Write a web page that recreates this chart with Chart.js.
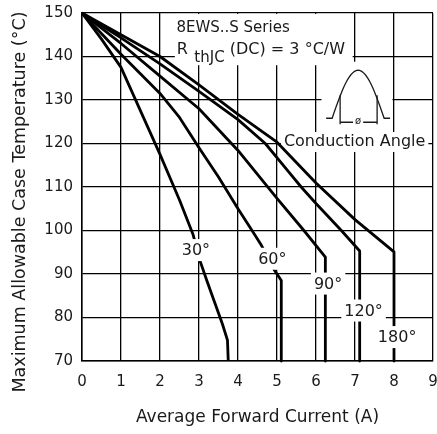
<!DOCTYPE html>
<html>
<head>
<meta charset="utf-8">
<script src="https://cdn.jsdelivr.net/npm/chart.js@4.4.1/dist/chart.umd.min.js"></script>
<style>
    html, body { margin: 0; padding: 0; background: #fff; }
    #wrap { width: 437px; height: 434px; position: relative; }
</style>
</head>
<body>
<div id="wrap"><canvas id="deratingChart"></canvas></div>
<script>
// Curves: average forward current (A) -> max case temp (°C)
const amps30  = [0, 0.5, 1, 1.5, 2, 2.5, 2.85, 3.02, 3.2, 3.4, 3.6, 3.73, 3.75];
const temp30  = [150, 144, 137.5, 127.5, 117.5, 107, 99, 93.2, 88.5, 83.5, 78.5, 74.8, 70];

const amps60  = [0, 1, 2, 2.5, 3, 3.5, 4, 4.36, 4.6, 4.94, 5.11, 5.11];
const temp60  = [150, 140.5, 131.5, 126, 119, 112.3, 105, 100, 96.6, 90.8, 88.5, 70];

const amps90  = [0, 1, 2, 3, 4, 5, 5.69, 6.24, 6.24];
const temp90  = [150, 143, 135.5, 128, 118.4, 107.4, 100, 93.9, 70];

const amps120 = [0, 1, 2, 3, 4, 4.7, 5.3, 5.62, 6, 6.65, 7.12, 7.12];
const temp120 = [150, 144.3, 138.3, 132, 125.5, 120, 113.5, 110, 106.2, 100, 95.3, 70];

const amps180 = [0, 1, 2, 3, 4, 5, 6, 7, 8, 8];
const temp180 = [150, 145, 140, 133.5, 126.7, 120.3, 110.9, 102.5, 95.1, 70];

// Conduction angle labels and where they sit (A, °C)
const angleNames      = ['30°', '60°', '90°', '120°', '180°'];
const angleLabelAmps  = [2.92, 4.88, 6.31, 7.22, 8.08];
const angleLabelTemps = [95.5, 93.5, 87.8, 81.6, 75.5];

const FONT = '"DejaVu Sans", sans-serif';
const INK = '#1a1a1a';

//////////////////////////////////////////////
// Helpers
//////////////////////////////////////////////
function toPoints(xs, ys) {
    return xs.map((x, i) => ({ x: x, y: ys[i] }));
}

function makeCurve(name, xs, ys) {
    return {
        label: name,
        data: toPoints(xs, ys),
        showLine: true,
        borderColor: '#000',
        borderWidth: 2.8,
        pointRadius: 0,
        tension: 0,
        borderJoinStyle: 'round',
        clip: false
    };
}

function whiteRect(ctx, x0, y0, x1, y1) {
    ctx.fillStyle = '#fff';
    ctx.fillRect(x0, y0, x1 - x0, y1 - y0);
}

function drawWaveIcon(ctx, cx, base) {
    ctx.strokeStyle = INK;
    ctx.lineWidth = 1.3;
    ctx.beginPath();
    ctx.moveTo(cx - 32, base);
    ctx.lineTo(cx - 26, base);
    for (let k = 0; k <= 40; k++) {
        const t = k / 40;
        ctx.lineTo(cx - 26 + 52 * t, base - 48 * Math.sin(Math.PI * t));
    }
    ctx.lineTo(cx + 32, base);
    ctx.stroke();

    // conduction window
    ctx.beginPath();
    ctx.moveTo(cx - 18, base - 23);
    ctx.lineTo(cx - 18, base + 6);
    ctx.moveTo(cx + 19, base - 23);
    ctx.lineTo(cx + 19, base + 6);
    ctx.moveTo(cx - 18, base + 4);
    ctx.lineTo(cx + 19, base + 4);
    ctx.stroke();

    ctx.font = '10px ' + FONT;
    const w = ctx.measureText('ø').width;
    whiteRect(ctx, cx - w / 2 - 2, base - 3, cx + w / 2 + 2, base + 9);
    ctx.fillStyle = INK;
    ctx.textAlign = 'center';
    ctx.textBaseline = 'middle';
    ctx.fillText('ø', cx, base + 3);
}

//////////////////////////////////////////////
// Notes drawn on top of the grid
//////////////////////////////////////////////
const notesPlugin = {
    id: 'notes',
    beforeDatasetsDraw(chart) {
        const ctx = chart.ctx;
        const x = chart.scales.x;
        const y = chart.scales.y;
        ctx.save();

        // series / Rth box
        whiteRect(ctx, x.getPixelForValue(2.38), y.getPixelForValue(149.8),
                  x.getPixelForValue(6.94), y.getPixelForValue(138));
        ctx.fillStyle = INK;
        ctx.textAlign = 'left';
        ctx.textBaseline = 'middle';
        ctx.font = '15px ' + FONT;
        ctx.fillText('8EWS..S Series', x.getPixelForValue(2.42), y.getPixelForValue(146.6));
        ctx.font = '16px ' + FONT;
        ctx.fillText('R', x.getPixelForValue(2.43), y.getPixelForValue(141.5));
        ctx.font = '15px ' + FONT;
        ctx.fillText('thJC', x.getPixelForValue(2.88), y.getPixelForValue(139.6));
        ctx.font = '16px ' + FONT;
        ctx.fillText('(DC) = 3 °C/W', x.getPixelForValue(3.79), y.getPixelForValue(141.5));

        // waveform icon
        whiteRect(ctx, x.getPixelForValue(6.14), y.getPixelForValue(138.8),
                  x.getPixelForValue(7.96), y.getPixelForValue(122));
        drawWaveIcon(ctx, x.getPixelForValue(7.08), y.getPixelForValue(125.8));

        // conduction angle caption
        ctx.font = '16px ' + FONT;
        const cap = 'Conduction Angle';
        const cw = ctx.measureText(cap).width;
        const cx = x.getPixelForValue(6.99);
        const cy = y.getPixelForValue(120.35);
        whiteRect(ctx, cx - cw / 2 - 3, cy - 10, cx + cw / 2 + 3, cy + 10);
        ctx.fillStyle = INK;
        ctx.textAlign = 'center';
        ctx.fillText(cap, cx, cy);

        ctx.restore();
    },
    afterDatasetsDraw(chart) {
        const ctx = chart.ctx;
        const x = chart.scales.x;
        const y = chart.scales.y;
        ctx.save();
        ctx.font = '16px ' + FONT;
        ctx.textAlign = 'center';
        ctx.textBaseline = 'middle';
        angleNames.forEach((name, i) => {
            const px = x.getPixelForValue(angleLabelAmps[i]);
            const py = y.getPixelForValue(angleLabelTemps[i]);
            const w = ctx.measureText(name).width;
            whiteRect(ctx, px - w / 2 - 3, py - 11, px + w / 2 + 3, py + 11);
            ctx.fillStyle = INK;
            ctx.fillText(name, px, py + 1);
        });

        // y axis title
        ctx.font = '17.5px ' + FONT;
        ctx.translate(20, 202);
        ctx.rotate(-Math.PI / 2);
        ctx.fillText('Maximum Allowable Case Temperature (°C)', 0, 0);
        ctx.restore();
    }
};

//////////////////////////////////////////////
// Chart
//////////////////////////////////////////////
const ctx = document.getElementById('deratingChart').getContext('2d');
const deratingChart = new Chart(ctx, {
    type: 'scatter',
    data: {
        datasets: [
            makeCurve('30°', amps30, temp30),
            makeCurve('60°', amps60, temp60),
            makeCurve('90°', amps90, temp90),
            makeCurve('120°', amps120, temp120),
            makeCurve('180°', amps180, temp180)
        ]
    },
    options: {
        responsive: true,
        maintainAspectRatio: false,
        animation: false,
        layout: { padding: { top: 13, right: 4, bottom: 0, left: 0 } },
        plugins: {
            legend: { display: false },
            tooltip: { enabled: false }
        },
        scales: {
            x: {
                type: 'linear',
                min: 0,
                max: 9,
                ticks: {
                    stepSize: 1,
                    padding: 12,
                    color: INK,
                    font: { family: FONT, size: 15 }
                },
                grid: { color: '#000', lineWidth: 1.3, drawTicks: false },
                border: { color: '#000', width: 1.5 },
                title: {
                    display: true,
                    text: 'Average Forward Current (A)',
                    color: INK,
                    font: { family: FONT, size: 17 },
                    padding: { top: 0, bottom: 6 }
                },
                afterFit(scale) {
                    scale.height = 73;
                    scale.paddingLeft = 0;
                    scale.paddingRight = 0;
                }
            },
            y: {
                type: 'linear',
                min: 70,
                max: 150,
                ticks: {
                    stepSize: 10,
                    padding: 9,
                    color: INK,
                    font: { family: FONT, size: 15 }
                },
                grid: { color: '#000', lineWidth: 1.3, drawTicks: false },
                border: { color: '#000', width: 1.5 },
                afterFit(scale) {
                    scale.width = 82;
                    scale.paddingTop = 0;
                    scale.paddingBottom = 0;
                }
            }
        }
    },
    plugins: [notesPlugin]
});
</script>
</body>
</html>
